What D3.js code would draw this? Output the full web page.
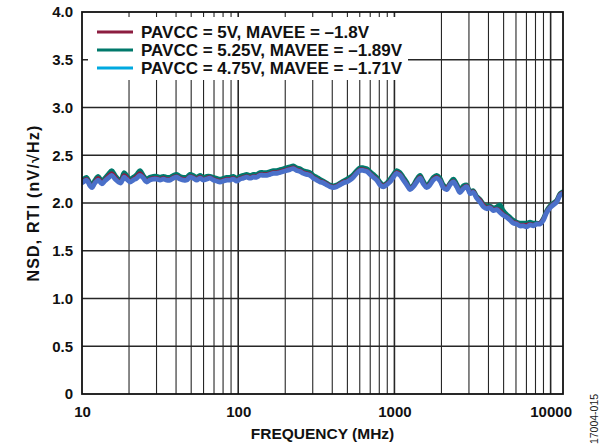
<!DOCTYPE html>
<html>
<head>
<meta charset="utf-8">
<script src="https://cdn.jsdelivr.net/npm/d3@7"></script>
<style>
  html, body { margin: 0; padding: 0; background: #fff; }
  svg { display: block; }
  text { font-family: "Liberation Sans", Arial, Helvetica, sans-serif; }
</style>
</head>
<body>
<svg id="chart" width="600" height="448"></svg>
<script>
// Frequency points (MHz) shared by all three traces
const freq = [
  10, 10.2, 10.7, 11.25, 11.6, 12.1, 12.7, 13.4, 14.0, 14.7,
  15.5, 16.3, 17.1, 17.7, 18.6, 19.3, 20.3, 21.3, 22.4, 23.5,
  24.7, 25.9, 27.2, 28.6, 30.1, 31.6, 33.2, 34.8, 36.6, 38.4,
  40.4, 42.4, 44.5, 46.8, 49.1, 51.6, 54.2, 56.9, 59.8, 62.8,
  66.0, 69.3, 72.8, 76.4, 80.3, 84.4, 88.6, 93.1, 97.8, 102.7,
  107.9, 113.3, 119, 125, 131.3, 137.9, 144.9, 152.2, 159.8, 167.9,
  176.3, 185.2, 194.5, 204.3, 214.6, 225.4, 236.7, 248.7, 261.2, 274.4,
  288.2, 302.7, 317.9, 334, 350.8, 368.5, 387, 406.5, 427, 448.4,
  471, 494.8, 519.7, 545.9, 573.3, 602.2, 632.6, 664.5, 698, 733.1,
  770, 808.8, 849.6, 892.4, 937.2, 984.5, 1034, 1086, 1141, 1198,
  1259, 1322, 1389, 1459, 1532, 1609, 1690, 1776, 1865, 1959,
  2058, 2161, 2270, 2384, 2504, 2630, 2763, 2902, 3048, 3201,
  3363, 3532, 3710, 3896, 4093, 4299, 4515, 4743, 4981, 5232,
  5496, 5772, 6063, 6368, 6688, 7025, 7379, 7751, 8141, 8551,
  8982, 9436, 9912, 10411, 10935, 11486, 12000
];

// NSD, RTI (nV/rtHz): PAVCC = 5V, MAVEE = -1.8V
const nsdNominal = [
  2.22, 2.23, 2.25, 2.19, 2.17, 2.22, 2.26, 2.21, 2.24, 2.28,
  2.31, 2.27, 2.23, 2.22, 2.29, 2.27, 2.23, 2.25, 2.28, 2.31,
  2.27, 2.23, 2.25, 2.26, 2.26, 2.25, 2.26, 2.25, 2.25, 2.27,
  2.28, 2.26, 2.25, 2.25, 2.28, 2.27, 2.25, 2.27, 2.25, 2.26,
  2.27, 2.25, 2.24, 2.23, 2.24, 2.25, 2.25, 2.26, 2.24, 2.26,
  2.27, 2.28, 2.27, 2.28, 2.28, 2.30, 2.30, 2.30, 2.31, 2.32,
  2.32, 2.33, 2.34, 2.35, 2.36, 2.37, 2.35, 2.34, 2.32, 2.31,
  2.30, 2.27, 2.25, 2.23, 2.22, 2.20, 2.18, 2.17, 2.18, 2.20,
  2.22, 2.23, 2.25, 2.28, 2.32, 2.35, 2.35, 2.34, 2.31, 2.28,
  2.25, 2.20, 2.18, 2.20, 2.23, 2.28, 2.32, 2.30, 2.25, 2.20,
  2.15, 2.18, 2.23, 2.27, 2.21, 2.17, 2.20, 2.25, 2.27, 2.24,
  2.17, 2.16, 2.20, 2.23, 2.18, 2.12, 2.16, 2.18, 2.11, 2.12,
  2.06, 2.03, 1.98, 1.95, 1.96, 1.93, 1.94, 1.92, 1.88, 1.86,
  1.83, 1.80, 1.79, 1.77, 1.77, 1.77, 1.78, 1.77, 1.78, 1.79,
  1.83, 1.91, 1.96, 1.99, 2.02, 2.09, 2.11
];

// PAVCC = 5.25V, MAVEE = -1.89V
const nsdHigh = [
  2.24, 2.25, 2.27, 2.21, 2.19, 2.24, 2.28, 2.23, 2.26, 2.30,
  2.34, 2.29, 2.25, 2.24, 2.32, 2.29, 2.25, 2.27, 2.30, 2.34,
  2.29, 2.25, 2.27, 2.28, 2.28, 2.27, 2.28, 2.27, 2.27, 2.29,
  2.30, 2.28, 2.27, 2.27, 2.30, 2.29, 2.27, 2.29, 2.27, 2.28,
  2.28, 2.27, 2.26, 2.25, 2.26, 2.27, 2.27, 2.28, 2.26, 2.28,
  2.29, 2.30, 2.29, 2.30, 2.30, 2.32, 2.32, 2.32, 2.33, 2.34,
  2.34, 2.35, 2.36, 2.37, 2.38, 2.39, 2.37, 2.36, 2.34, 2.33,
  2.32, 2.29, 2.27, 2.25, 2.23, 2.21, 2.19, 2.18, 2.19, 2.21,
  2.23, 2.25, 2.27, 2.30, 2.34, 2.37, 2.37, 2.36, 2.33, 2.30,
  2.27, 2.22, 2.19, 2.21, 2.25, 2.30, 2.34, 2.32, 2.27, 2.22,
  2.16, 2.19, 2.25, 2.29, 2.23, 2.18, 2.22, 2.27, 2.29, 2.26,
  2.19, 2.16, 2.21, 2.25, 2.20, 2.14, 2.18, 2.19, 2.12, 2.13,
  2.07, 2.04, 1.99, 1.97, 1.97, 1.95, 1.96, 1.98, 1.92, 1.88,
  1.85, 1.82, 1.80, 1.79, 1.79, 1.79, 1.80, 1.79, 1.79, 1.79,
  1.84, 1.92, 1.97, 2.00, 2.03, 2.10, 2.12
];

// PAVCC = 4.75V, MAVEE = -1.71V
const nsdLow = [
  2.21, 2.22, 2.24, 2.18, 2.16, 2.21, 2.24, 2.20, 2.23, 2.26,
  2.29, 2.25, 2.22, 2.21, 2.27, 2.25, 2.22, 2.24, 2.26, 2.29,
  2.26, 2.22, 2.24, 2.25, 2.25, 2.24, 2.25, 2.24, 2.24, 2.26,
  2.27, 2.25, 2.24, 2.24, 2.27, 2.26, 2.24, 2.26, 2.24, 2.25,
  2.26, 2.24, 2.23, 2.22, 2.23, 2.24, 2.24, 2.25, 2.23, 2.25,
  2.26, 2.27, 2.26, 2.27, 2.27, 2.29, 2.29, 2.29, 2.30, 2.31,
  2.31, 2.32, 2.33, 2.34, 2.35, 2.36, 2.34, 2.33, 2.31, 2.30,
  2.29, 2.26, 2.24, 2.22, 2.21, 2.19, 2.17, 2.16, 2.17, 2.19,
  2.21, 2.22, 2.24, 2.27, 2.31, 2.34, 2.34, 2.33, 2.30, 2.27,
  2.24, 2.19, 2.17, 2.19, 2.22, 2.27, 2.31, 2.29, 2.24, 2.19,
  2.14, 2.17, 2.22, 2.26, 2.20, 2.16, 2.19, 2.24, 2.26, 2.23,
  2.16, 2.14, 2.19, 2.22, 2.17, 2.11, 2.15, 2.17, 2.10, 2.11,
  2.05, 2.01, 1.96, 1.94, 1.95, 1.92, 1.93, 1.90, 1.87, 1.85,
  1.82, 1.79, 1.78, 1.76, 1.76, 1.75, 1.77, 1.76, 1.78, 1.78,
  1.82, 1.90, 1.95, 1.98, 2.01, 2.08, 2.10
];

const seriesNames = [
  "PAVCC = 5V, MAVEE = \u20131.8V",
  "PAVCC = 5.25V, MAVEE = \u20131.89V",
  "PAVCC = 4.75V, MAVEE = \u20131.71V"
];
const legendColors = ["#8c1d40", "#00796b", "#00a9e0"];
const traceColors = ["#8c1d40", "#00796b", "#4a70c9"];

const xTickValues = [10, 100, 1000, 10000];
const yTickValues = [0, 0.5, 1.0, 1.5, 2.0, 2.5, 3.0, 3.5, 4.0];
const yTickLabels = ["0", "0.5", "1.0", "1.5", "2.0", "2.5", "3.0", "3.5", "4.0"];

const xTitle = "FREQUENCY (MHz)";
const yTitle = "NSD, RTI (nV/\u221AHz)";
const figureId = "17004-015";

// ---- layout ----
const svg = d3.select("#chart");
const m = { left: 82, right: 37, top: 12, bottom: 54 };
const W = 600, H = 448;
const plotW = W - m.left - m.right;
const plotH = H - m.top - m.bottom;

const x = d3.scaleLog().domain([10, 12000]).range([m.left, m.left + plotW]);
const y = d3.scaleLinear().domain([0, 4]).range([m.top + plotH, m.top]);

const gridColor = "#262626";

// vertical grid (1-2-...-9 per decade)
const vLines = [];
for (let dec = 10; dec <= 10000; dec *= 10) {
  for (let k = 1; k <= 9; k++) {
    const f = dec * k;
    if (f > 10 && f < 12000) vLines.push({ f, major: k === 1 });
  }
}
svg.append("g").selectAll("line").data(vLines).join("line")
  .attr("x1", d => x(d.f)).attr("x2", d => x(d.f))
  .attr("y1", y(4)).attr("y2", y(0))
  .attr("stroke", gridColor)
  .attr("stroke-width", d => d.major ? 1.6 : 1.1);

// horizontal grid
svg.append("g").selectAll("line").data(yTickValues.filter(v => v > 0 && v < 4)).join("line")
  .attr("x1", x(10)).attr("x2", x(12000))
  .attr("y1", d => y(d)).attr("y2", d => y(d))
  .attr("stroke", gridColor).attr("stroke-width", 1.3);

// traces
svg.append("clipPath").attr("id", "plotClip").append("rect")
  .attr("x", m.left).attr("y", m.top).attr("width", plotW).attr("height", plotH);

const line = d3.line()
  .x(d => x(d[0])).y(d => y(d[1]))
  .curve(d3.curveCatmullRom.alpha(0.5));

const traces = [
  { values: nsdHigh, color: traceColors[1], width: 4.6 },
  { values: nsdNominal, color: traceColors[0], width: 4.2 },
  { values: nsdLow, color: traceColors[2], width: 4.8 }
];
const traceG = svg.append("g").attr("clip-path", "url(#plotClip)");
traces.forEach(t => {
  traceG.append("path")
    .datum(d3.zip(freq, t.values))
    .attr("d", line)
    .attr("fill", "none")
    .attr("stroke", t.color)
    .attr("stroke-width", t.width)
    .attr("stroke-linejoin", "round")
    .attr("stroke-linecap", "round");
});

// legend (white panel over grid)
const lg = svg.append("g");
lg.append("rect")
  .attr("x", m.left + 6).attr("y", m.top + 5)
  .attr("width", 320).attr("height", 63)
  .attr("fill", "#fff");
seriesNames.forEach((name, i) => {
  const ly = 32 + i * 18;
  lg.append("line")
    .attr("x1", 97).attr("x2", 133).attr("y1", ly).attr("y2", ly)
    .attr("stroke", legendColors[i]).attr("stroke-width", 3.2);
  lg.append("text")
    .attr("x", 141).attr("y", ly + 6)
    .attr("font-size", 17).attr("font-weight", "bold")
    .attr("fill", "#111")
    .text(name);
});

// frame
svg.append("rect")
  .attr("x", m.left).attr("y", m.top).attr("width", plotW).attr("height", plotH)
  .attr("fill", "none").attr("stroke", "#111").attr("stroke-width", 1.8);

// axes (labels only; grid supplies the ticks)
const xAxis = d3.axisBottom(x).tickValues(xTickValues).tickFormat(d3.format("d")).tickSize(0).tickPadding(12);
const xg = svg.append("g").attr("transform", `translate(0,${m.top + plotH})`).call(xAxis);
xg.select(".domain").remove();
xg.selectAll("text").attr("font-size", 15).attr("font-weight", "bold").attr("fill", "#111")
  .attr("font-family", "Liberation Sans, Arial, sans-serif");

const yAxis = d3.axisLeft(y).tickValues(yTickValues)
  .tickFormat((d, i) => yTickLabels[i]).tickSize(0).tickPadding(9);
const yg = svg.append("g").attr("transform", `translate(${m.left},0)`).call(yAxis);
yg.select(".domain").remove();
yg.selectAll("text").attr("font-size", 15).attr("font-weight", "bold").attr("fill", "#111")
  .attr("font-family", "Liberation Sans, Arial, sans-serif");

// titles
svg.append("text")
  .attr("x", m.left + plotW / 2).attr("y", 439)
  .attr("text-anchor", "middle")
  .attr("font-size", 15.5).attr("font-weight", "bold").attr("fill", "#111")
  .text(xTitle);

svg.append("text")
  .attr("transform", `translate(39,${m.top + plotH / 2}) rotate(-90)`)
  .attr("text-anchor", "middle")
  .attr("font-size", 16).attr("font-weight", "bold").attr("fill", "#111")
  .attr("letter-spacing", 1.2)
  .text(yTitle);

svg.append("text")
  .attr("transform", "translate(598,419) rotate(-90)")
  .attr("text-anchor", "middle")
  .attr("font-size", 10.5).attr("fill", "#222")
  .text(figureId);
</script>
</body>
</html>
